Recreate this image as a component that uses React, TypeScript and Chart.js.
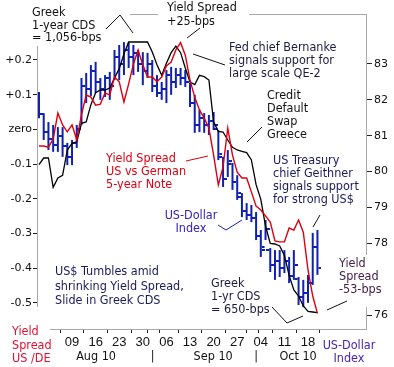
import React, { useEffect, useRef } from 'react';
import { Chart, registerables } from 'chart.js';

Chart.register(...registerables);

// ---- DATA ----
const tradingDays = [
  'Jul 29', 'Jul 30',
  'Aug 02', 'Aug 03', 'Aug 04', 'Aug 05', 'Aug 06',
  'Aug 09', 'Aug 10', 'Aug 11', 'Aug 12', 'Aug 13',
  'Aug 16', 'Aug 17', 'Aug 18', 'Aug 19', 'Aug 20',
  'Aug 23', 'Aug 24', 'Aug 25', 'Aug 26', 'Aug 27',
  'Aug 30', 'Aug 31', 'Sep 01', 'Sep 02', 'Sep 03',
  'Sep 06', 'Sep 07', 'Sep 08', 'Sep 09', 'Sep 10',
  'Sep 13', 'Sep 14', 'Sep 15', 'Sep 16', 'Sep 17',
  'Sep 20', 'Sep 21', 'Sep 22', 'Sep 23', 'Sep 24',
  'Sep 27', 'Sep 28', 'Sep 29', 'Sep 30', 'Oct 01',
  'Oct 04', 'Oct 05', 'Oct 06', 'Oct 07', 'Oct 08',
  'Oct 11', 'Oct 12', 'Oct 13', 'Oct 14', 'Oct 15',
  'Oct 18', 'Oct 19', 'Oct 20',
];

// US vs German 5-year note yield spread (percentage points)
const yieldSpread = [
  -0.048, -0.048, -0.051, -0.028, 0.047, 0.013, -0.007, 0.013, -0.030, 0.042,
  0.099, 0.093, 0.070, 0.073, 0.105, 0.099, 0.151, 0.137, 0.079, 0.131,
  0.188, 0.229, 0.186, 0.151, 0.151, 0.137, 0.151, 0.183, 0.194, 0.229,
  0.250, 0.214, 0.142, 0.093, 0.056, 0.033, 0.004, -0.074, -0.160, -0.108,
  0.004, -0.074, -0.123, -0.140, -0.140, -0.180, -0.221, -0.232, -0.249, -0.267,
  -0.321, -0.324, -0.324, -0.284, -0.290, -0.261, -0.296, -0.405, -0.480, -0.530,
];

// Greek 1-year CDS (bps)
const greekCds = [
  872, 882, 882, 838, 852, 856, 894, 904, 906, 934,
  936, 962, 980, 984, 984, 987, 1002, 1016, 1038, 1056,
  1056, 1056, 1056, 1056, 1041, 1022, 1006, 1024, 1040, 1050,
  1040, 1017, 996, 992, 1006, 1004, 999, 936, 922, 921,
  909, 898, 894, 892, 890, 879, 842, 820, 780, 754,
  753, 750, 736, 706, 684, 675, 660, 652, 651, 650,
];

// US Dollar Index OHLC
const dxyOpen = [
  81.95, 81.60, 81.10, 80.90, 80.75, 81.00, 80.70, 80.40, 80.80, 81.20,
  82.40, 82.30, 82.80, 82.50, 82.30, 82.60, 82.40, 83.20, 83.00, 83.40,
  83.20, 83.30, 83.00, 82.80, 83.00, 82.40, 82.20, 82.30, 82.70, 82.50,
  82.70, 82.60, 82.50, 81.90, 81.30, 81.50, 81.30, 81.40, 81.20, 80.40,
  79.80, 80.20, 79.70, 79.30, 78.90, 78.80, 78.70, 78.20, 77.90, 77.80,
  77.40, 77.50, 77.30, 77.50, 77.10, 77.00, 76.50, 76.60, 76.90, 77.90,
];
const dxyHigh = [
  82.22, 81.63, 81.38, 81.30, 81.24, 81.24, 80.80, 80.88, 81.30, 82.61,
  82.75, 82.97, 83.06, 82.61, 82.69, 82.78, 83.39, 83.53, 83.61, 83.59,
  83.53, 83.39, 83.33, 83.31, 83.11, 82.69, 82.50, 82.83, 82.92, 82.89,
  82.89, 82.83, 82.47, 82.14, 81.72, 81.63, 81.58, 81.66, 81.16, 80.41,
  80.60, 80.24, 79.90, 79.40, 79.12, 79.07, 78.87, 78.37, 78.65, 77.87,
  77.81, 77.81, 77.81, 77.62, 77.81, 77.06, 76.98, 77.12, 78.29, 78.37,
];
const dxyLow = [
  81.49, 80.88, 80.60, 80.55, 80.55, 80.41, 80.18, 80.18, 80.66, 81.30,
  81.91, 82.11, 82.19, 82.00, 82.08, 82.00, 82.55, 82.55, 82.69, 82.89,
  82.69, 82.78, 82.41, 82.61, 82.22, 82.08, 82.00, 81.91, 82.14, 82.33,
  82.41, 82.36, 81.80, 81.08, 81.10, 81.08, 81.02, 81.16, 80.32, 79.57,
  79.85, 79.49, 79.21, 78.73, 78.65, 78.59, 78.09, 77.62, 78.09, 77.20,
  76.98, 77.06, 77.17, 76.89, 76.98, 76.28, 76.22, 76.34, 76.84, 77.12,
];
const dxyClose = [
  81.60, 81.10, 80.90, 80.75, 81.00, 80.70, 80.40, 80.80, 81.20, 82.40,
  82.30, 82.80, 82.50, 82.30, 82.60, 82.40, 83.20, 83.00, 83.40, 83.20,
  83.30, 83.00, 82.80, 83.00, 82.40, 82.20, 82.30, 82.70, 82.50, 82.70,
  82.60, 82.50, 81.90, 81.30, 81.50, 81.30, 81.40, 81.30, 80.50, 79.80,
  80.30, 79.70, 79.40, 78.90, 78.80, 78.70, 78.20, 77.80, 78.40, 77.40,
  77.50, 77.30, 77.50, 77.10, 77.40, 76.50, 76.60, 76.90, 77.90, 77.30,
];

// x-axis ticks
const weekTickDays = ['Aug 09', 'Aug 16', 'Aug 23', 'Aug 30', 'Sep 06', 'Sep 13', 'Sep 20', 'Sep 27', 'Oct 04', 'Oct 11', 'Oct 18'];
const weekTickLabels = ['09', '16', '23', '30', '06', '13', '20', '27', '04', '11', '18'];
const monthBoundaryDays = ['Sep 01', 'Oct 01'];
const monthLabels = ['Aug 10', '|', 'Sep 10', '|', 'Oct 10'];
const monthLabelPos = [12.1, 24.1, 36.9, 46.0, 54.9];

// y-axis ticks
const spreadTicks = [0.2, 0.1, 0, -0.1, -0.2, -0.3, -0.4, -0.5];
const spreadTickLabels = ['+0.2', '+0.1', 'zero', '-0.1', '-0.2', '-0.3', '-0.4', '-0.5'];
const dxyTicks = [83, 82, 81, 80, 79, 78, 76];

// ---- STYLE ----
const BLUE = '#1020b0';
const RED = '#dd0011';
const FRAME = '#a8a8a8';
const ANN_FONT_FAMILY = "'DejaVu Sans Condensed', 'DejaVu Sans', sans-serif";
const ANN_SIZE = 12.5;

type Ann = { lines: string[]; x: number; y: number; lh: number; color: string; align?: CanvasTextAlign };
const annotations: Ann[] = [
  { lines: ['Greek', '1-year CDS', '= 1,056-bps'], x: 32, y: 12.5, lh: 12.8, color: '#111111' },
  { lines: ['Yield Spread', '+25-bps'], x: 167, y: 8, lh: 13.5, color: '#111111' },
  { lines: ['Fed chief Bernanke', 'signals support for', 'large scale QE-2'], x: 229, y: 48, lh: 13, color: '#1c1c40' },
  { lines: ['Credit', 'Default', 'Swap', 'Greece'], x: 267, y: 96, lh: 13, color: '#111111' },
  { lines: ['Yield Spread', 'US vs German', '5-year Note'], x: 106, y: 159, lh: 13, color: RED },
  { lines: ['US-Dollar', 'Index'], x: 191, y: 215.5, lh: 12.8, color: '#3322bb', align: 'center' },
  { lines: ['US Treasury', 'chief Geithner', 'signals support', 'for strong US$'], x: 273, y: 161, lh: 13, color: '#1a1a5c' },
  { lines: ['US$ Tumbles amid', 'shrinking Yield Spread,', 'Slide in Greek CDS'], x: 55, y: 272, lh: 14.5, color: '#1a1a5c' },
  { lines: ['Greek', '1-yr CDS', '= 650-bps'], x: 211, y: 284, lh: 13, color: '#1a1a40' },
  { lines: ['Yield', 'Spread', '-53-bps'], x: 339, y: 264, lh: 13, color: '#44204e' },
  { lines: ['Yield', 'Spread', 'US /DE'], x: 12, y: 332, lh: 13.5, color: '#dd1133' },
  { lines: ['US-Dollar', 'Index'], x: 349, y: 346, lh: 13, color: '#4a22b8', align: 'center' },
];

const whiteBoxes = [
  [0, 0, 130, 20],
  [0, 0, 106, 46],
  [158, 0, 91, 30],
  [336, 255, 50, 52],
  [0, 307, 50, 60],
];

const leaders: { pts: number[][]; color: string }[] = [
  { pts: [[106, 29], [120, 15], [133, 33]], color: '#111' },
  { pts: [[187, 38], [200, 28]], color: '#111' },
  { pts: [[193, 54], [225, 65]], color: '#111' },
  { pts: [[247, 142], [262, 127]], color: '#111' },
  { pts: [[186, 161], [208, 156]], color: RED },
  { pts: [[218, 225], [226, 230], [242, 220]], color: BLUE },
  { pts: [[313, 227], [320, 215]], color: '#111' },
  { pts: [[272, 307], [287, 323], [303, 316]], color: '#111' },
  { pts: [[327, 310], [347, 301]], color: '#111' },
];

const framePlugin = {
  id: 'frame',
  beforeDatasetsDraw(chart: any) {
    const { ctx, chartArea } = chart;
    ctx.save();
    ctx.strokeStyle = FRAME;
    ctx.lineWidth = 1;
    ctx.strokeRect(chartArea.left - 0.5, chartArea.top + 0.5, chartArea.right - chartArea.left, chartArea.bottom - chartArea.top);
    ctx.restore();
  },
};

const annotationPlugin = {
  id: 'annotations',
  afterDraw(chart: any) {
    const ctx = chart.ctx as CanvasRenderingContext2D;
    ctx.save();
    ctx.fillStyle = '#ffffff';
    whiteBoxes.forEach(([x, y, w, h]) => ctx.fillRect(x, y, w, h));
    ctx.lineWidth = 1;
    leaders.forEach((l) => {
      ctx.strokeStyle = l.color;
      ctx.beginPath();
      l.pts.forEach(([x, y], i) => (i === 0 ? ctx.moveTo(x, y) : ctx.lineTo(x, y)));
      ctx.stroke();
    });
    ctx.font = `${ANN_SIZE}px ${ANN_FONT_FAMILY}`;
    ctx.textBaseline = 'middle';
    annotations.forEach((a) => {
      ctx.fillStyle = a.color;
      ctx.textAlign = a.align || 'left';
      a.lines.forEach((line, i) => ctx.fillText(line, a.x, a.y + i * a.lh));
    });
    ctx.restore();
  },
};

function tickImage(left: boolean) {
  const c = document.createElement('canvas');
  c.width = 8;
  c.height = 2;
  const g = c.getContext('2d')!;
  g.fillStyle = BLUE;
  g.fillRect(left ? 0 : 5, 0, 3, 2);
  return c;
}

export default function App() {
  const ref = useRef<HTMLCanvasElement | null>(null);

  useEffect(() => {
    document.body.style.margin = '0';
    const canvas = ref.current;
    if (!canvas) return;

    const idx = (d: string) => tradingDays.indexOf(d);
    const weekTickVals = weekTickDays.map(idx);
    const boundaryVals = monthBoundaryDays.map(idx);
    const xTickVals = [...weekTickVals, ...boundaryVals].sort((a, b) => a - b);

    const chart = new Chart(canvas, {
      type: 'line',
      data: {
        datasets: [
          {
            type: 'line',
            label: 'Yield Spread US vs German 5-year Note',
            data: yieldSpread.map((v, i) => ({ x: i, y: v })),
            yAxisID: 'y',
            borderColor: RED,
            borderWidth: 1.4,
            pointRadius: 0,
            tension: 0,
          },
          {
            type: 'line',
            label: 'Greek 1-year CDS',
            data: greekCds.map((v, i) => ({ x: i, y: v })),
            yAxisID: 'y2',
            borderColor: '#000000',
            borderWidth: 1.3,
            pointRadius: 0,
            tension: 0,
          },
          {
            type: 'line',
            label: 'DXY open',
            data: dxyOpen.map((v, i) => ({ x: i, y: v })),
            yAxisID: 'y1',
            showLine: false,
            pointStyle: tickImage(true) as any,
            pointRadius: 3,
          },
          {
            type: 'line',
            label: 'DXY close',
            data: dxyClose.map((v, i) => ({ x: i, y: v })),
            yAxisID: 'y1',
            showLine: false,
            pointStyle: tickImage(false) as any,
            pointRadius: 3,
          },
          {
            type: 'bar',
            label: 'US-Dollar Index',
            data: dxyLow.map((lo, i) => ({ x: i, y: [lo, dxyHigh[i]] })) as any,
            yAxisID: 'y1',
            backgroundColor: BLUE,
            borderWidth: 0,
            barThickness: 2,
            inflateAmount: 0,
            grouped: false,
          } as any,
        ],
      },
      options: {
        responsive: false,
        maintainAspectRatio: false,
        animation: false,
        events: [],
        layout: { padding: { top: 14, left: 0, right: 0, bottom: 0 } },
        plugins: { legend: { display: false }, tooltip: { enabled: false } },
        scales: {
          x: {
            type: 'linear',
            position: 'bottom',
            weight: 0,
            min: -0.21,
            max: 69.5,
            offset: false,
            afterBuildTicks: (axis: any) => {
              axis.ticks = xTickVals.map((v) => ({ value: v }));
            },
            afterFit: (axis: any) => {
              axis.height = 20;
            },
            grid: { display: true, drawOnChartArea: false, drawTicks: true, tickLength: 4, tickColor: '#222' },
            border: { display: false },
            ticks: {
              autoSkip: false,
              maxRotation: 0,
              padding: 2,
              color: '#111',
              font: { family: "'Liberation Sans Narrow', 'Liberation Sans', sans-serif", size: 13 },
              callback: (v: any) => {
                const k = weekTickVals.indexOf(Number(v));
                return k >= 0 ? weekTickLabels[k] : '';
              },
            },
          },
          x2: {
            type: 'linear',
            position: 'bottom',
            weight: 1,
            min: -0.21,
            max: 69.5,
            offset: false,
            afterBuildTicks: (axis: any) => {
              axis.ticks = monthLabelPos.map((v) => ({ value: v }));
            },
            afterFit: (axis: any) => {
              axis.height = 18;
            },
            grid: { display: false, drawTicks: false },
            border: { display: false },
            ticks: {
              autoSkip: false,
              maxRotation: 0,
              padding: 0,
              color: '#111',
              font: { family: ANN_FONT_FAMILY, size: 12.5 },
              callback: (v: any) => {
                const k = monthLabelPos.indexOf(Number(v));
                return k >= 0 ? monthLabels[k] : '';
              },
            },
          },
          y: {
            type: 'linear',
            position: 'left',
            min: -0.575,
            max: 0.3325,
            afterBuildTicks: (axis: any) => {
              axis.ticks = spreadTicks.map((v) => ({ value: v }));
            },
            afterFit: (axis: any) => {
              axis.width = 38;
            },
            grid: { display: true, drawOnChartArea: false, drawTicks: true, tickLength: 5, tickColor: '#222' },
            border: { display: false },
            ticks: {
              autoSkip: false,
              padding: 1,
              color: '#111',
              font: { family: "'DejaVu Sans', sans-serif", size: 11 },
              callback: (v: any) => {
                const k = spreadTicks.findIndex((t) => Math.abs(t - Number(v)) < 1e-9);
                return k >= 0 ? spreadTickLabels[k] : '';
              },
            },
          },
          y1: {
            type: 'linear',
            position: 'right',
            min: 75.61,
            max: 84.394,
            afterBuildTicks: (axis: any) => {
              axis.ticks = dxyTicks.map((v) => ({ value: v }));
            },
            afterFit: (axis: any) => {
              axis.width = 27;
            },
            grid: { display: true, drawOnChartArea: false, drawTicks: true, tickLength: 5, tickColor: '#222' },
            border: { display: false },
            ticks: {
              autoSkip: false,
              padding: 2,
              color: '#111',
              font: { family: "'DejaVu Sans', sans-serif", size: 11 },
              callback: (v: any) => String(v),
            },
          },
          y2: {
            type: 'linear',
            display: false,
            min: 625.5,
            max: 1098,
          },
        },
      } as any,
      plugins: [framePlugin, annotationPlugin],
    });

    return () => chart.destroy();
  }, []);

  return (
    <div style={{ width: 394, height: 367 }}>
      <canvas ref={ref} width={394} height={367} style={{ display: 'block' }} />
    </div>
  );
}
